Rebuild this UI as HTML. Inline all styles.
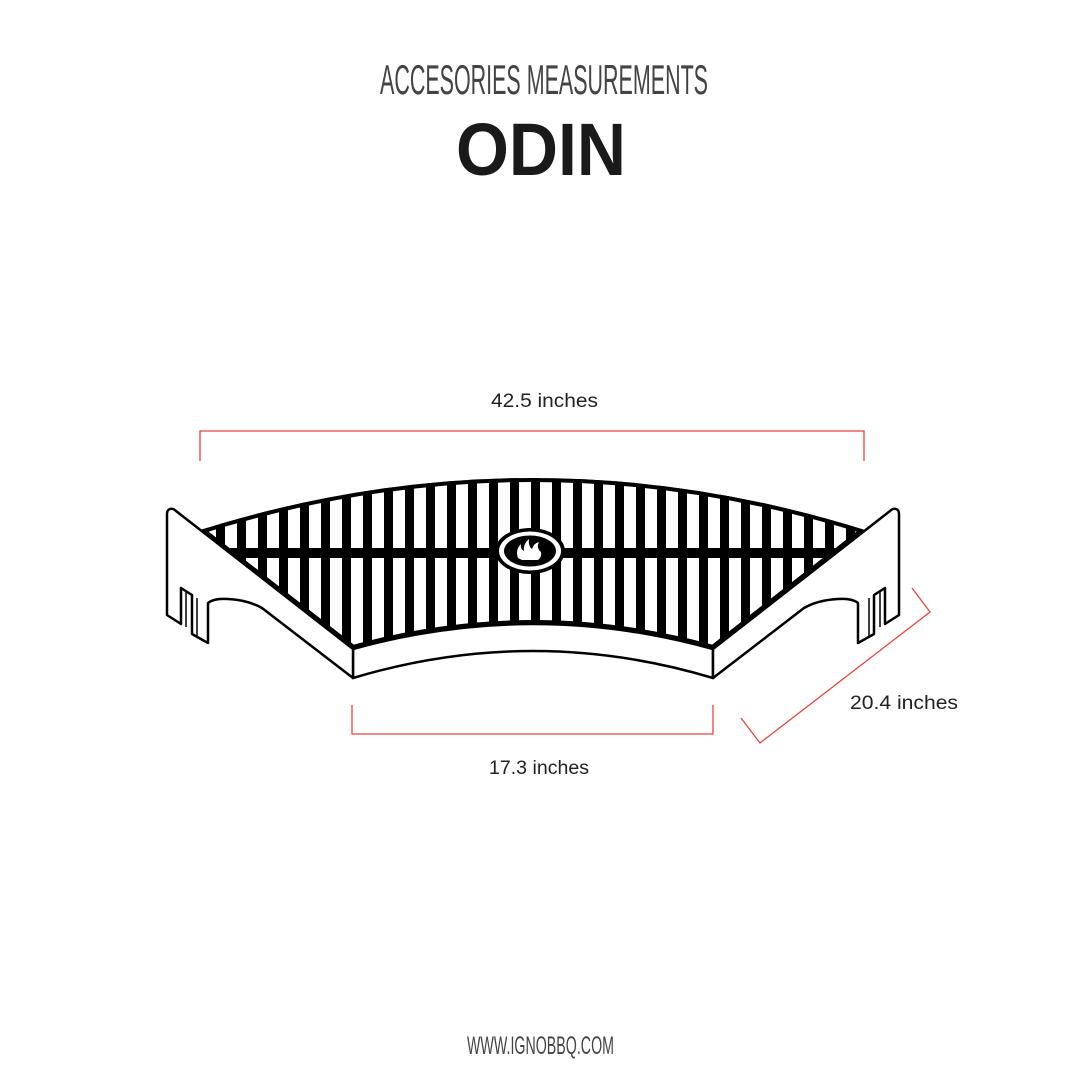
<!DOCTYPE html>
<html><head><meta charset="utf-8"><style>html,body{margin:0;padding:0;background:#fff}svg{display:block}</style></head>
<body>
<svg width="1080" height="1080" viewBox="0 0 1080 1080" xmlns="http://www.w3.org/2000/svg">
<rect width="1080" height="1080" fill="#fff"/>
<text x="380" y="94" font-family="Liberation Sans, sans-serif" font-size="42" fill="#444" textLength="328" lengthAdjust="spacingAndGlyphs">ACCESORIES MEASUREMENTS</text>
<text x="456" y="175" font-family="Liberation Sans, sans-serif" font-weight="bold" font-size="74" fill="#1a1a1a" textLength="170" lengthAdjust="spacingAndGlyphs">ODIN</text>
<text x="467" y="1054" font-family="Liberation Sans, sans-serif" font-size="25" fill="#444" textLength="147" lengthAdjust="spacingAndGlyphs">WWW.IGNOBBQ.COM</text>

<g font-family="Liberation Sans, sans-serif" font-size="19" fill="#222">
<text x="491" y="407" textLength="107" lengthAdjust="spacingAndGlyphs">42.5 inches</text>
<text x="489" y="774" textLength="100" lengthAdjust="spacingAndGlyphs">17.3 inches</text>
<text x="850" y="709" textLength="108" lengthAdjust="spacingAndGlyphs">20.4 inches</text>
</g>
<g fill="none" stroke="#e8453c" stroke-width="1.3">
<path d="M200,461 V431 H864 V461"/>
<path d="M352,705 V734 H713 V705"/>
<path d="M741,718 L760,743 L930,612 L912,588"/>
</g>

<defs>
<clipPath id="g"><path d="M200,530 Q532,426 865,530 L713,649 Q533,599 353,649 Z"/></clipPath>
</defs>
<path d="M200,530 Q532,426 865,530 L713,649 Q533,599 353,649 Z" fill="#000"/>
<g clip-path="url(#g)">
<g fill="#fff">
<rect x="204" y="470" width="12" height="190"/><rect x="225" y="470" width="12" height="190"/><rect x="246" y="470" width="12" height="190"/><rect x="267" y="470" width="12" height="190"/><rect x="288" y="470" width="12" height="190"/><rect x="309" y="470" width="12" height="190"/><rect x="330" y="470" width="12" height="190"/><rect x="351" y="470" width="12" height="190"/><rect x="372" y="470" width="12" height="190"/><rect x="393" y="470" width="12" height="190"/><rect x="414" y="470" width="12" height="190"/><rect x="435" y="470" width="12" height="190"/><rect x="456" y="470" width="12" height="190"/><rect x="477" y="470" width="12" height="190"/><rect x="498" y="470" width="12" height="190"/><rect x="519" y="470" width="12" height="190"/><rect x="540" y="470" width="12" height="190"/><rect x="561" y="470" width="12" height="190"/><rect x="582" y="470" width="12" height="190"/><rect x="603" y="470" width="12" height="190"/><rect x="624" y="470" width="12" height="190"/><rect x="645" y="470" width="12" height="190"/><rect x="666" y="470" width="12" height="190"/><rect x="687" y="470" width="12" height="190"/><rect x="708" y="470" width="12" height="190"/><rect x="729" y="470" width="12" height="190"/><rect x="750" y="470" width="12" height="190"/><rect x="771" y="470" width="12" height="190"/><rect x="792" y="470" width="12" height="190"/><rect x="813" y="470" width="12" height="190"/><rect x="834" y="470" width="12" height="190"/><rect x="855" y="470" width="12" height="190"/>
</g>
<rect x="150" y="548" width="760" height="10" fill="#000"/>
<path d="M200,530 Q532,426 865,530 L713,649 Q533,599 353,649 Z" fill="none" stroke="#000" stroke-width="8"/>
</g>
<ellipse cx="530" cy="551" rx="35" ry="23" fill="#000"/>
<ellipse cx="530" cy="551" rx="31" ry="19.5" fill="#fff"/>
<ellipse cx="530" cy="551" rx="26" ry="15.5" fill="#000"/>
<path d="M518,558 Q515,550 521,544 Q520,549 524,551 Q523,544 529,539 Q528,546 532,549 Q534,543 539,542 Q536,548 541,552 Q542,557 538,560 L522,560 Z" fill="#fff"/>

<path d="M353,649 Q533,599 713,649 V678 Q533,624 353,678 Z" fill="#fff" stroke="#000" stroke-width="2.5" stroke-linejoin="round"/>

<path d="M170,509 Q167,510 167,514 L167,615 L181,624 L181,588 L192,595 L192,634 L208,643 L208,603 Q214,598 228,599 Q248,600 262,608 L353,678 L353,649 L176,511 Q173,508 170,509 Z" fill="#fff" stroke="#000" stroke-width="2.5" stroke-linejoin="round"/>
<path d="M186,591 V627 M197,598 V637" stroke="#000" stroke-width="1.5"/>
<g transform="translate(1066,0) scale(-1,1)">
<path d="M170,509 Q167,510 167,514 L167,615 L181,624 L181,588 L192,595 L192,634 L208,643 L208,603 Q214,598 228,599 Q248,600 262,608 L353,678 L353,649 L176,511 Q173,508 170,509 Z" fill="#fff" stroke="#000" stroke-width="2.5" stroke-linejoin="round"/>
<path d="M186,591 V627 M197,598 V637" stroke="#000" stroke-width="1.5"/>
</g>
</svg>
</body></html>
